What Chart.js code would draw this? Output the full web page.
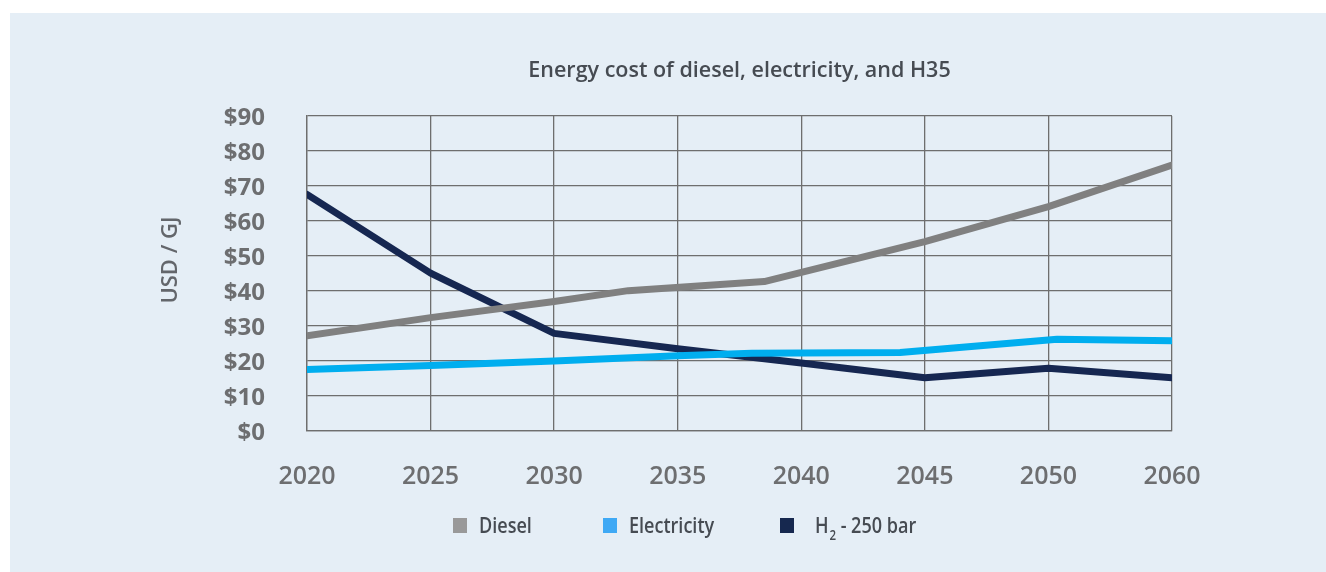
<!DOCTYPE html>
<html>
<head>
<meta charset="utf-8">
<title>Energy cost of diesel, electricity, and H35</title>
<script src="https://cdn.jsdelivr.net/npm/chart.js@4.4.1/dist/chart.umd.min.js"></script>
<style>
  html, body { margin: 0; padding: 0; background: #ffffff; }
  #wrap { width: 1326px; height: 572px; }
</style>
</head>
<body>
<div id="wrap"><canvas id="chart-energy" width="1326" height="572"></canvas></div>
<script>
// Axis labels: 5-year steps up to 2050, then a single 10-year step to 2060
const years = ['2020', '2025', '2030', '2035', '2040', '2045', '2050', '2060'];
const costTicks = [0, 10, 20, 30, 40, 50, 60, 70, 80, 90];

// USD per GJ, sampled at the years where each line bends
const dieselYears = [2020, 2025, 2030, 2033, 2038.5, 2045, 2050, 2060];
const dieselCost = [27.2, 32.4, 37.0, 40.1, 42.7, 54.1, 64.1, 76.0];

const electricityYears = [2020, 2025, 2030, 2035, 2038, 2044, 2050.7, 2060];
const electricityCost = [17.6, 18.7, 20.0, 21.5, 22.2, 22.4, 26.2, 25.8];

const hydrogenYears = [2020, 2025, 2030, 2035, 2040, 2045, 2050, 2060];
const hydrogenCost = [67.6, 45.1, 27.9, 23.5, 19.4, 15.2, 17.9, 15.2];

// the axis is evenly spaced per label, so 2050-2060 takes the same width as 5 years
function yearToSlot(y) {
  return y <= 2050 ? (y - 2020) / 5 : 6 + (y - 2050) / 10;
}

function toPoints(xs, ys) {
  return xs.map((x, i) => ({ x: yearToSlot(x), y: ys[i] }));
}

const FONT = '"Open Sans", "Noto Sans", sans-serif';
const PANEL = '#E5EEF6';
const TICK_COLOR = '#6D6E70';
const TEXT_DARK = '#464B52';

const legendItems = [
  { label: 'Diesel', color: '#999999', x: 453 },
  { label: 'Electricity', color: '#3FA9F5', x: 603 },
  { label: 'H', sub: '2', rest: ' - 250 bar', color: '#16284F', x: 780, gap: 35 },
];

// legend text is set in a narrow cut: full height, squeezed horizontally
const LEGEND_SQUEEZE = 0.82;

const decor = {
  id: 'decor',
  beforeDraw(chart) {
    const { ctx } = chart;
    ctx.save();
    ctx.fillStyle = PANEL;
    ctx.fillRect(10, 13, chart.width - 10, chart.height - 13);
    ctx.restore();
  },
  afterDraw(chart) {
    const { ctx, chartArea } = chart;
    ctx.save();

    // title
    ctx.fillStyle = TEXT_DARK;
    ctx.font = '600 21.5px ' + FONT;
    ctx.textAlign = 'center';
    ctx.textBaseline = 'alphabetic';
    ctx.fillText('Energy cost of diesel, electricity, and H35', (chartArea.left + chartArea.right) / 2, 77);

    // y axis title
    ctx.save();
    ctx.translate(171, 260);
    ctx.rotate(-Math.PI / 2);
    ctx.fillStyle = '#63666B';
    ctx.font = '600 22px ' + FONT;
    ctx.textBaseline = 'middle';
    ctx.fillText('USD / GJ', 0, 0);
    ctx.restore();

    // legend
    ctx.textAlign = 'left';
    ctx.textBaseline = 'alphabetic';
    legendItems.forEach(item => {
      ctx.fillStyle = item.color;
      ctx.fillRect(item.x, 518, 14, 15);
      ctx.save();
      ctx.translate(item.x + (item.gap || 26), 533);
      ctx.scale(LEGEND_SQUEEZE, 1);
      ctx.fillStyle = TEXT_DARK;
      ctx.font = '600 22px ' + FONT;
      let tx = 0;
      ctx.fillText(item.label, tx, 0);
      if (item.sub) {
        tx += ctx.measureText(item.label).width + 1;
        ctx.font = '600 14px ' + FONT;
        ctx.fillText(item.sub, tx, 7);
        tx += ctx.measureText(item.sub).width;
        ctx.font = '600 22px ' + FONT;
        ctx.fillText(item.rest, tx, 0);
      }
      ctx.restore();
    });
    ctx.restore();
  },
};

const lineStyle = {
  borderWidth: 7,
  borderCapStyle: 'round',
  borderJoinStyle: 'round',
  pointRadius: 0,
  pointHoverRadius: 0,
  tension: 0,
  fill: false,
};

new Chart(document.getElementById('chart-energy'), {
  type: 'line',
  data: {
    datasets: [
      { ...lineStyle, label: 'Diesel', data: toPoints(dieselYears, dieselCost), borderColor: '#808080' },
      { ...lineStyle, label: 'Electricity', data: toPoints(electricityYears, electricityCost), borderColor: '#00AEEF' },
      { ...lineStyle, label: 'H2 - 250 bar', data: toPoints(hydrogenYears, hydrogenCost), borderColor: '#162751' },
    ],
  },
  options: {
    responsive: false,
    animation: false,
    events: [],
    layout: { padding: { top: 116, right: 154, left: 0, bottom: 0 } },
    plugins: {
      legend: { display: false },
      title: { display: false },
      tooltip: { enabled: false },
    },
    scales: {
      x: {
        type: 'linear',
        min: 0,
        max: years.length - 1,
        afterFit: s => { s.height = 141; },
        afterBuildTicks: s => { s.ticks = years.map((_, i) => ({ value: i })); },
        ticks: {
          callback: v => years[v],
          color: TICK_COLOR,
          font: { family: FONT, size: 25, weight: '600' },
          padding: 31,
          maxRotation: 0,
          autoSkip: false,
        },
        grid: { color: '#6E6E6E', lineWidth: 1.3, drawTicks: false },
        border: { color: '#6E6E6E', width: 1.3 },
      },
      y: {
        min: 0,
        max: 90,
        afterFit: s => { s.width = 307; },
        afterBuildTicks: s => { s.ticks = costTicks.map(v => ({ value: v })); },
        ticks: {
          callback: v => '$' + v,
          color: TICK_COLOR,
          font: { family: FONT, size: 24, weight: 'bold' },
          padding: 42,
          labelOffset: 2,
        },
        grid: { color: '#6E6E6E', lineWidth: 1.3, drawTicks: false },
        border: { color: '#6E6E6E', width: 1.3 },
      },
    },
  },
  plugins: [decor],
});
</script>
</body>
</html>
